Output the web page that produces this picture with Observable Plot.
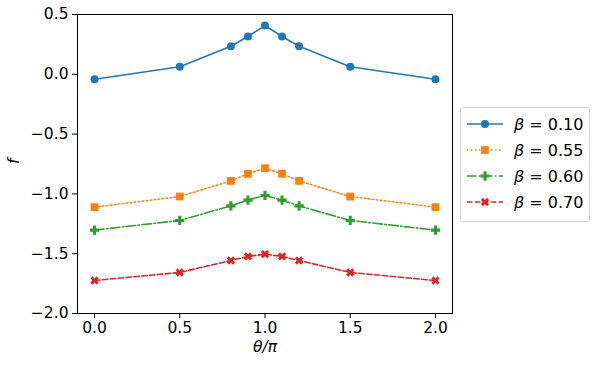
<!DOCTYPE html>
<html>
<head>
<meta charset="utf-8">
<script src="https://cdn.jsdelivr.net/npm/d3@7"></script>
<script src="https://cdn.jsdelivr.net/npm/@observablehq/plot@0.6"></script>
<style>
  html, body { margin: 0; padding: 0; background: #fff; }
  #wrap { position: relative; width: 598px; height: 366px; font-family: "DejaVu Sans", sans-serif; }
  #legend { position: absolute; left: 460px; top: 107px; width: 130px; height: 115px; border: 1px solid #d0d0d0; border-radius: 3px; background: #fff; box-sizing: border-box; }
  .row { position: absolute; left: 0; height: 24px; display: flex; align-items: center; }
  .row span { font-size: 16px; color: #000; margin-left: 11px; white-space: nowrap; }
</style>
</head>
<body>
<div id="wrap"></div>
<script>
const theta = [0.0, 0.5, 0.8, 0.9, 1.0, 1.1, 1.2, 1.5, 2.0];
const f010 = [-0.041, 0.063, 0.235, 0.316, 0.408, 0.316, 0.235, 0.063, -0.041];
const f055 = [-1.111, -1.022, -0.891, -0.832, -0.785, -0.832, -0.891, -1.022, -1.111];
const f060 = [-1.303, -1.222, -1.100, -1.052, -1.013, -1.052, -1.100, -1.222, -1.303];
const f070 = [-1.724, -1.657, -1.557, -1.523, -1.504, -1.523, -1.557, -1.657, -1.724];
const betaLabels = ["0.10", "0.55", "0.60", "0.70"];
const xTicks = [0.0, 0.5, 1.0, 1.5, 2.0];
const yTicks = [0.5, 0.0, -0.5, -1.0, -1.5, -2.0];

// filled "X" marker (matplotlib 'X')
const symbolX = {
  draw(ctx, size) {
    const r = Math.sqrt(size / 5) / 2;
    const pts = [[-r, -3*r], [r, -3*r], [r, -r], [3*r, -r], [3*r, r], [r, r], [r, 3*r], [-r, 3*r], [-r, r], [-3*r, r], [-3*r, -r], [-r, -r]];
    const c = Math.SQRT1_2;
    pts.forEach(([x, y], i) => {
      const xr = c * (x - y), yr = c * (x + y);
      if (i === 0) ctx.moveTo(xr, yr); else ctx.lineTo(xr, yr);
    });
    ctx.closePath();
  }
};
// filled "P" marker (thick plus)
const symbolP = {
  draw(ctx, size) {
    const r = Math.sqrt(size / 5) / 2;
    const pts = [[-r, -3*r], [r, -3*r], [r, -r], [3*r, -r], [3*r, r], [r, r], [r, 3*r], [-r, 3*r], [-r, r], [-3*r, r], [-3*r, -r], [-r, -r]];
    pts.forEach(([x, y], i) => { if (i === 0) ctx.moveTo(x, y); else ctx.lineTo(x, y); });
    ctx.closePath();
  }
};

const series = [
  {vals: f010, color: "#1f77b4", dash: null, symbol: "circle", r: 4},
  {vals: f055, color: "#ff7f0e", dash: "1.5,2.5", symbol: "square", r: 4.4},
  {vals: f060, color: "#2ca02c", dash: "9.6,2.4,1.5,2.4", symbol: symbolP, r: 3.9},
  {vals: f070, color: "#d62728", dash: "5.5,2.4", symbol: symbolX, r: 3.7}
];

const marks = [];
for (const s of series) {
  const data = theta.map((t, i) => ({x: t, y: s.vals[i]}));
  marks.push(Plot.line(data, {x: "x", y: "y", stroke: s.color, strokeWidth: 1.6, strokeDasharray: s.dash || undefined}));
  marks.push(Plot.dot(data, {x: "x", y: "y", fill: s.color, stroke: "none", symbol: s.symbol, r: s.r}));
}
marks.push(Plot.frame({stroke: "#000", strokeWidth: 1}));

const fmt = d => d.toFixed(1).replace("-", "\u2212");

const chart = Plot.plot({
  width: 598,
  height: 366,
  marginLeft: 77,
  marginRight: 146,
  marginTop: 14,
  marginBottom: 53,
  style: {fontFamily: "DejaVu Sans, sans-serif", fontSize: "15.5px", color: "#000", background: "#fff"},
  x: {domain: [-0.1, 2.1], ticks: xTicks, tickFormat: fmt, tickSize: 5, tickPadding: 3, label: null},
  y: {domain: [-2.0, 0.5], ticks: yTicks, tickFormat: fmt, tickSize: 5, tickPadding: 4, label: null},
  marks: [
    ...marks,
    Plot.text(["θ/π"], {frameAnchor: "bottom", dy: 38, fontStyle: "italic", fontSize: 15.5}),
    Plot.text(["f"], {frameAnchor: "left", dx: -63, rotate: -90, fontStyle: "italic", fontSize: 15.5})
  ]
});

const wrap = document.getElementById("wrap");
wrap.appendChild(chart);

// legend
const legend = document.createElement("div");
legend.id = "legend";
const rowTops = [4, 30, 56, 82];
series.forEach((s, i) => {
  const row = document.createElement("div");
  row.className = "row";
  row.style.top = rowTops[i] + "px";
  row.style.left = "6px";
  const ns = "http://www.w3.org/2000/svg";
  const svg = document.createElementNS(ns, "svg");
  svg.setAttribute("width", 36); svg.setAttribute("height", 24);
  const line = document.createElementNS(ns, "line");
  line.setAttribute("x1", 0); line.setAttribute("x2", 36); line.setAttribute("y1", 12); line.setAttribute("y2", 12);
  line.setAttribute("stroke", s.color); line.setAttribute("stroke-width", 1.6);
  if (s.dash) line.setAttribute("stroke-dasharray", s.dash);
  svg.appendChild(line);
  const path = document.createElementNS(ns, "path");
  const sym = typeof s.symbol === "string" ? (s.symbol === "circle" ? d3.symbolCircle : d3.symbolSquare) : s.symbol;
  path.setAttribute("d", d3.symbol(sym, Math.PI * s.r * s.r)());
  path.setAttribute("transform", "translate(18,12)");
  path.setAttribute("fill", s.color);
  svg.appendChild(path);
  row.appendChild(svg);
  const span = document.createElement("span");
  span.innerHTML = '<i>β</i> = ' + betaLabels[i];
  row.appendChild(span);
  legend.appendChild(row);
});
wrap.appendChild(legend);
</script>
</body>
</html>
